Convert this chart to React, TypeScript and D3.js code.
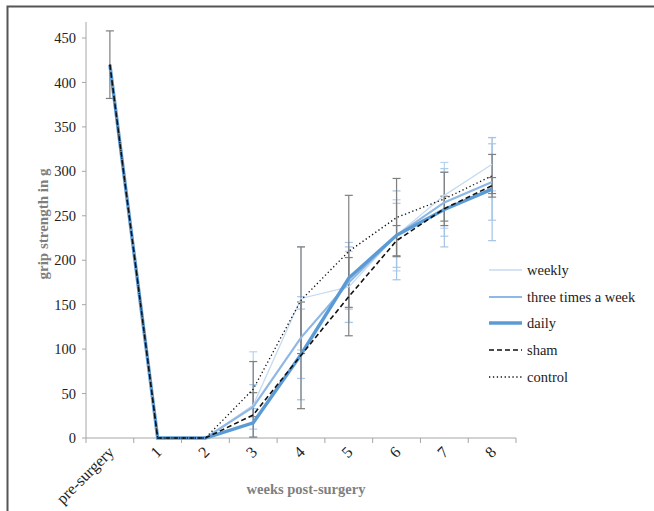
import * as d3 from 'd3';
import React from 'react';

const categories = ['pre-surgery', '1', '2', '3', '4', '5', '6', '7', '8'];

const weekly = [420, 0, 0, 37, 157, 170, 228, 273, 308];
const threeTimes = [420, 0, 0, 35, 113, 175, 228, 265, 288];
const daily = [420, 0, 0, 17, 94, 180, 228, 257, 280];
const sham = [420, 0, 0, 26, 93, 159, 222, 258, 284];
const control = [420, 0, 0, 55, 155, 210, 248, 269, 295];

// standard deviations (null = no error bar drawn)
const weeklySd = [null, null, null, 60, 58, 40, 40, 37, 30];
const threeTimesSd = [null, null, null, 25, 46, 45, 36, 38, 43];
const dailySd = [null, null, null, 16, 51, 35, 50, 42, 58];
const shamSd = [null, null, null, 25, 60, 44, 17, 14, 9];
const controlSd = [38, null, null, 31, 60, 63, 44, 30, 24];

const yTicks = [0, 50, 100, 150, 200, 250, 300, 350, 400, 450];

const series = [
  { name: 'weekly', values: weekly, sd: weeklySd, color: '#c6dbf0', width: 1.3, dash: null, errColor: '#b9d3ee' },
  { name: 'three times a week', values: threeTimes, sd: threeTimesSd, color: '#8fb8e4', width: 2.2, dash: null, errColor: '#a9c9ea' },
  { name: 'daily', values: daily, sd: dailySd, color: '#5b9bd5', width: 3.4, dash: null, errColor: '#a3c4e6' },
  { name: 'sham', values: sham, sd: shamSd, color: '#111', width: 1.6, dash: '5,3', errColor: '#7f7f7f' },
  { name: 'control', values: control, sd: controlSd, color: '#111', width: 1.3, dash: '1.3,2.6', errColor: '#7f7f7f' },
];

const font = '"Liberation Serif", serif';

const App = () => {
  const x = d3.scaleBand().domain(categories).range([86, 516]).padding(0);
  const y = d3.scaleLinear().domain([0, 450]).range([438, 38]);
  const cx = (c) => x(c) + x.bandwidth() / 2;

  const line = d3.line()
    .x((d, i) => cx(categories[i]))
    .y((d) => y(d));

  const legendY = [270, 297, 323, 350, 377];

  return (
    <svg width={654} height={511} style={{ position: 'absolute', left: 0, top: 0, background: '#fff' }}>
      <rect x={7.5} y={6.5} width={670} height={530} fill="none" stroke="#555" strokeWidth={2} />

      {/* y axis */}
      <line x1={86} x2={86} y1={y(0)} y2={y(468)} stroke="#a6a6a6" />
      {yTicks.map((t) => (
        <g key={t}>
          <line x1={82} x2={86} y1={y(t)} y2={y(t)} stroke="#a6a6a6" />
          <text x={76} y={y(t)} dy="0.35em" textAnchor="end" fontFamily={font} fontSize={14.5} fill="#222">{t}</text>
        </g>
      ))}

      {/* x axis */}
      <line x1={86} x2={516} y1={y(0)} y2={y(0)} stroke="#a6a6a6" />
      {categories.map((c) => (
        <line key={'t' + c} x1={x(c)} x2={x(c)} y1={y(0)} y2={y(0) + 5} stroke="#a6a6a6" />
      ))}
      <line x1={516} x2={516} y1={y(0)} y2={y(0) + 5} stroke="#a6a6a6" />
      {categories.map((c) => (
        <text key={'l' + c} transform={`translate(${cx(c) + 5},${453}) rotate(-45)`} textAnchor="end"
          fontFamily={font} fontSize={16} fill="#222">{c}</text>
      ))}

      {/* error bars */}
      {series.map((s) => (
        <g key={'e' + s.name} stroke={s.errColor} strokeWidth={1.2}>
          {s.sd.map((sd, i) => {
            if (sd == null) return null;
            const px = cx(categories[i]);
            const top = y(s.values[i] + sd);
            const bot = y(Math.max(0, s.values[i] - sd));
            return (
              <g key={i}>
                <line x1={px} x2={px} y1={top} y2={bot} />
                <line x1={px - 4} x2={px + 4} y1={top} y2={top} />
                {s.values[i] - sd >= 0 && <line x1={px - 4} x2={px + 4} y1={bot} y2={bot} />}
              </g>
            );
          })}
        </g>
      ))}

      {/* lines */}
      {series.map((s) => (
        <path key={s.name} d={line(s.values)} fill="none" stroke={s.color} strokeWidth={s.width}
          strokeDasharray={s.dash || undefined} />
      ))}

      {/* legend */}
      {series.map((s, i) => (
        <g key={'lg' + s.name}>
          <line x1={489} x2={522} y1={legendY[i]} y2={legendY[i]} stroke={s.color} strokeWidth={s.width}
            strokeDasharray={s.dash || undefined} />
          <text x={527} y={legendY[i]} dy="0.33em" fontFamily={font} fontSize={14.5} fill="#222">{s.name}</text>
        </g>
      ))}

      {/* axis titles */}
      <text x={306} y={494} textAnchor="middle" fontFamily={font} fontWeight="bold" fontSize={14.5} fill="#7f7f7f">weeks post-surgery</text>
      <text transform="translate(48,224) rotate(-90)" textAnchor="middle" fontFamily={font} fontWeight="bold" fontSize={15} fill="#7f7f7f">grip strength in g</text>
    </svg>
  );
};

export default App;
